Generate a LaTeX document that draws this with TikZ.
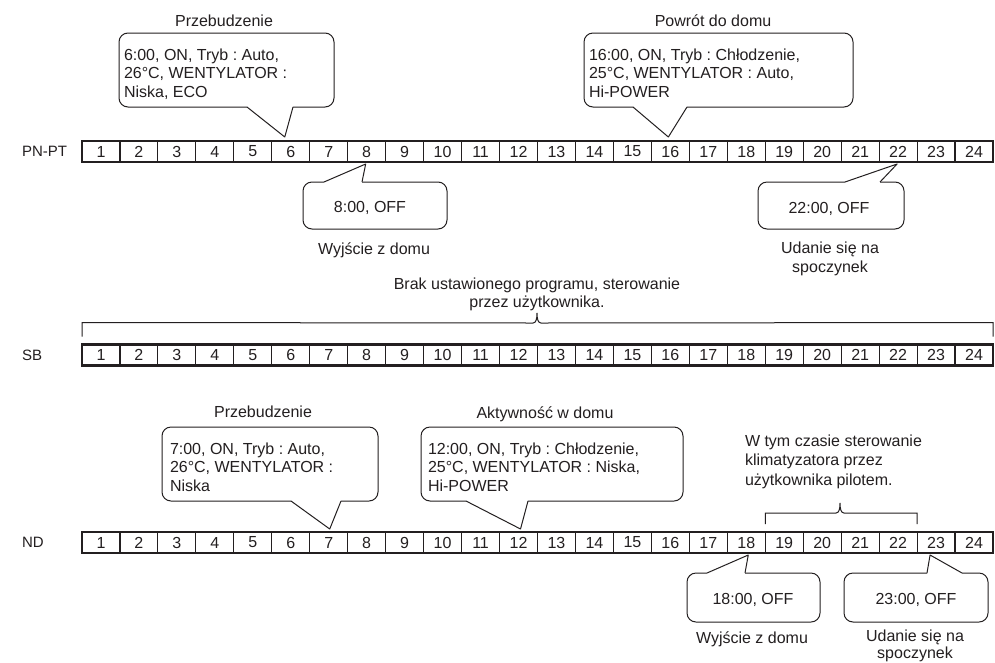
\documentclass[tikz,border=0pt]{standalone}
\usepackage{fontspec}
\setmainfont{Liberation Sans}
\usetikzlibrary{calc}
\definecolor{ink}{RGB}{35,31,32}
\frenchspacing
% callout with tail on the bottom edge: x1, ytop, x2, ybot, Lbase, Rbase, tip
\newcommand{\calldown}[7]{%
  \draw[cline,rounded corners=9pt] (#6,#4) -- (#3,#4) -- (#3,#2) -- (#1,#2) -- (#1,#4) -- (#5,#4);
  \draw[cline] (#5,#4) -- (#7) -- (#6,#4);}
% callout with tail on the top edge
\newcommand{\callupw}[7]{%
  \draw[cline,rounded corners=9pt] (#6,#2) -- (#3,#2) -- (#3,#4) -- (#1,#4) -- (#1,#2) -- (#5,#2);
  \draw[cline] (#5,#2) -- (#7) -- (#6,#2);}
\begin{document}
\frenchspacing
\begin{tikzpicture}[x=1pt,y=-1pt,
  every node/.style={text=ink,inner sep=0pt,outer sep=0pt},
  txt/.style={font=\fontsize{16}{18.5}\selectfont},
  cell/.style={draw=ink,line width=1.1pt,minimum width=37.958pt,minimum height=21pt,font=\fontsize{16}{18.5}\selectfont},
  outerbox/.style={draw=ink,line width=2.5pt},
  cline/.style={draw=ink,line width=1pt,line join=round},
  bline/.style={draw=ink,line width=1pt},
  ctext/.style={txt,align=left,anchor=north west},
  rowlab/.style={font=\fontsize{15}{18}\selectfont,anchor=west}]
\fill[white] (0,0) rectangle (995,662);
\useasboundingbox (0,0) rectangle (995,662);

% ---- strips ----
\foreach \r/\yc in {P/151.5,S/355,N/542.5}{
  \foreach \i [evaluate=\i as \xc using 82+(\i-0.5)*37.958] in {1,...,24}{
    \node[cell] (\r-\i) at (\xc,\yc) {\i};
  }
  \draw[outerbox] (\r-1.north west) rectangle (\r-24.south east);
}
\node[rowlab] (lP) at (22,151.5) {PN-PT};
\node[rowlab] (lS) at (22,355) {SB};
\node[rowlab] (lN) at (22,542.5) {ND};

% ---- tips ----
\coordinate (t1) at ($(P-6.north)+(-6,-4)$);
\coordinate (t3) at ($(P-16.north)+(-2,-4)$);
\coordinate (t2) at ($(P-8.south)+(-1,2)$);
\coordinate (t4) at ($(P-22.south)+(-1,2)$);
\coordinate (t5) at ($(N-7.north)+(1,-3)$);
\coordinate (t6) at ($(N-12.north)+(2,-3)$);
\coordinate (t7) at ($(N-18.south)+(2,2)$);
\coordinate (t8) at ($(N-23.south)+(-6,2)$);

% ---- PN-PT ----
\node[txt,anchor=base] (h1) at (224,26.5) {Przebudzenie};
\calldown{119}{33}{334}{107}{247}{293}{t1}
\node[ctext] (c1) at (124,48.5) {6:00, ON, Tryb : Auto,\\26°C, WENTYLATOR :\\Niska, ECO};

\node[txt,anchor=base] (h2) at (713,26) {Powrót do domu};
\calldown{584}{33}{853}{107}{633}{687}{t3}
\node[ctext] (c3) at (589,48.5) {16:00, ON, Tryb : Chłodzenie,\\25°C, WENTYLATOR : Auto,\\Hi-POWER};

\callupw{303}{182}{447}{229}{324}{362}{t2}
\node[txt,anchor=base] (c2) at (370,212) {8:00, OFF};
\node[txt,anchor=base] (w1) at (374,254) {Wyjście z domu};

\callupw{758}{182}{904}{229}{845}{880}{t4}
\node[txt,anchor=base] (c4) at (829,213) {22:00, OFF};
\node[txt,anchor=base] (u1) at (830,253) {Udanie się na};
\node[txt,anchor=base] (u2) at (830,272) {spoczynek};

% ---- SB ----
\node[txt,anchor=base] (s1) at (537,289) {Brak ustawionego programu, sterowanie};
\node[txt,anchor=base] (s2) at (537,307) {przez użytkownika.};
\coordinate (sbL) at ($(S-1.north west)+(0,-8)$);
\coordinate (sbR) at ($(S-24.north east)+(0,-8)$);
\draw[bline] (sbL) -- ($(sbL)+(0,-14)$) -- (533,323)
  .. controls (536,323) and (537,319) .. (537,313)
  .. controls (537,319) and (538,323) .. (541,323)
  -- ($(sbR)+(0,-14)$) -- (sbR);

% ---- ND ----
\node[txt,anchor=base] (h3) at (263,417) {Przebudzenie};
\calldown{162}{427}{378}{501}{291}{341}{t5}
\node[ctext] (c5) at (170,442.5) {7:00, ON, Tryb : Auto,\\26°C, WENTYLATOR :\\Niska};

\node[txt,anchor=base] (h4) at (545,418) {Aktywność w domu};
\calldown{421}{427}{683}{501}{466}{528}{t6}
\node[ctext] (c6) at (428,442.5) {12:00, ON, Tryb : Chłodzenie,\\25°C, WENTYLATOR : Niska,\\Hi-POWER};

\node[txt,anchor=base west] (m1) at (745,446) {W tym czasie sterowanie};
\node[txt,anchor=base west] (m2) at (745,465.5) {klimatyzatora przez};
\node[txt,anchor=base west] (m3) at (745,485) {użytkownika pilotem.};
\coordinate (ndL) at ($(N-19.north west)+(0,-8)$);
\coordinate (ndR) at ($(N-22.north east)+(0,-8)$);
\draw[bline] (ndL) -- ($(ndL)+(0,-11)$) -- (836,513)
  .. controls (839,513) and (840,509) .. (840,503)
  .. controls (840,509) and (841,513) .. (844,513)
  -- ($(ndR)+(0,-11)$) -- (ndR);

\callupw{687}{573}{820}{622}{707}{745}{t7}
\node[txt,anchor=base] (c7) at (753,604) {18:00, OFF};
\node[txt,anchor=base] (w2) at (752,643) {Wyjście z domu};

\callupw{844}{573}{988}{622}{927}{962}{t8}
\node[txt,anchor=base] (c8) at (916,604) {23:00, OFF};
\node[txt,anchor=base] (u3) at (915,641) {Udanie się na};
\node[txt,anchor=base] (u4) at (915,658) {spoczynek};
\end{tikzpicture}
\end{document}
